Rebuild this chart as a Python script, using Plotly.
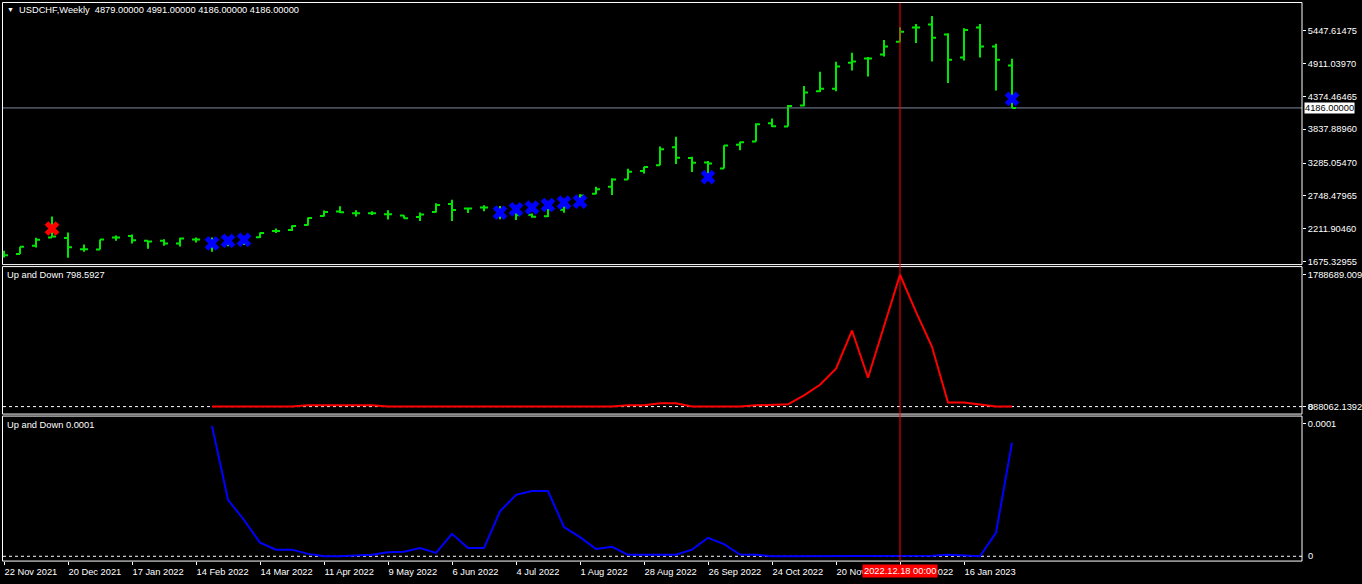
import plotly.graph_objects as go

# weekly USDCHF bars (index 0 = 22 Nov 2021)
bar_idx = list(range(64))
opens = [1778, 1795, 1930, 2067, 2060, 1876, 1871, 2067, 2093, 2012, 2012, 1969, 2034, 2020, 1960, 1990,
         2072, 2175, 2191, 2272, 2419, 2491, 2463, 2463, 2447, 2426, 2403, 2484, 2615, 2540, 2556, 2463,
         2480, 2440, 2414, 2520, 2680, 2784, 2898, 3017, 3153, 3250, 3544, 3365, 3294, 3197, 3583, 3637,
         3935, 3881, 4224, 4457, 4501, 4924, 4995, 5060, 5267, 5500, 5549, 5386, 5011, 5500, 5190, 4879]
highs = [1849, 1914, 2061, 2409, 2149, 1953, 2034, 2100, 2116, 2018, 2039, 2061, 2067, 2067, 2039, 2039,
         2148, 2214, 2263, 2393, 2507, 2577, 2512, 2496, 2512, 2431, 2475, 2626, 2686, 2556, 2594, 2582,
         2560, 2460, 2540, 2580, 2773, 2898, 3034, 3192, 3224, 3555, 3713, 3387, 3316, 3576, 3632, 3935,
         4012, 4235, 4545, 4778, 4941, 5087, 5017, 5299, 5506, 5560, 5691, 5409, 5490, 5560, 5234, 4991]
lows = [1741, 1795, 1904, 2067, 1735, 1832, 1871, 2012, 1969, 1881, 1930, 1920, 1986, 1832, 1925, 1942,
        2060, 2142, 2175, 2263, 2409, 2468, 2409, 2435, 2360, 2377, 2338, 2475, 2338, 2468, 2496, 2365,
        2354, 2390, 2403, 2470, 2664, 2773, 2761, 3017, 3115, 3250, 3267, 3136, 3099, 3197, 3495, 3637,
        3876, 3881, 4212, 4447, 4457, 4799, 4701, 5027, 5262, 5246, 4946, 4594, 4962, 5011, 4473, 4186]
closes = [1778, 1914, 2028, 2083, 1909, 1876, 2034, 2067, 2023, 2002, 1969, 2051, 2034, 2000, 1990, 2010,
          2142, 2175, 2256, 2387, 2484, 2479, 2463, 2463, 2447, 2382, 2442, 2598, 2517, 2540, 2556, 2512,
          2430, 2405, 2528, 2560, 2755, 2854, 3017, 3143, 3218, 3511, 3371, 3290, 3278, 3572, 3625, 3919,
          3886, 4219, 4440, 4501, 4864, 4946, 4995, 5190, 5430, 5500, 5332, 4973, 5462, 5190, 4973, 4186]

# arrow signals
red_x_idx = [3]
red_x_val = [2214]
blue_x_idx = [13, 14, 15, 31, 32, 33, 34, 35, 36, 44, 63]
blue_x_val = [1969, 2012, 2028, 2475, 2528, 2556, 2598, 2638, 2654, 3055, 4333]

# "Up and Down" indicator windows (start at bar 13)
ind_idx = list(range(13, 64))
up_down_red = [3000, 3000, 3000, 3000, 3000, 3000, 17000, 17000, 17000, 17000, 17000,
               3000, 3000, 3000, 3000, 3000, 3000, 3000, 3000, 3000, 3000, 3000, 3000, 3000, 3000, 3000,
               17000, 17000, 45000, 45000, 3000, 3000, 3000, 3000, 17000, 27000, 31000, 153000, 297000,
               514000, 1032000, 392000, 1091000, 1788689, 1284000, 811000, 54000, 54000, 27000, 3000, 798.5927]
up_down_blue = [9.80e-5, 4.25e-5, 2.73e-5, 1.03e-5, 5.0e-6, 5.0e-6, 1.8e-6, 1e-7, 0.0, 6e-7, 1.1e-6,
                3.0e-6, 3.5e-6, 6.2e-6, 2.5e-6, 1.69e-5, 6.2e-6, 6.2e-6, 3.38e-5, 4.62e-5, 4.91e-5, 4.91e-5,
                2.19e-5, 1.44e-5, 5.5e-6, 7.1e-6, 1.1e-6, 1.1e-6, 1.1e-6, 1.1e-6, 5.0e-6, 1.39e-5, 9.1e-6,
                1.3e-6, 1.1e-6, 0.0, 0.0, 0.0, 0.0, 0.0, 0.0, 0.0, 0.0, 0.0, 0.0, 4e-7, 1.1e-6, 4e-7, 0.0,
                1.76e-5, 8.55e-5]

# axis labels
date_tick_idx = [0, 4, 8, 12, 16, 20, 24, 28, 32, 36, 40, 44, 48, 52, 56, 60]
date_labels = ['22 Nov 2021', '20 Dec 2021', '17 Jan 2022', '14 Feb 2022', '14 Mar 2022', '11 Apr 2022',
               '9 May 2022', '6 Jun 2022', '4 Jul 2022', '1 Aug 2022', '28 Aug 2022', '26 Sep 2022',
               '24 Oct 2022', '20 Nov 2022', '18 Dec 2022', '16 Jan 2023']
price_ticks = [5447.61475, 4911.03970, 4374.46465, 3837.88960, 3285.05470, 2748.47965, 2211.90460, 1675.32955]
last_price = 4186.0
cursor_idx = 56
cursor_label = '2022.12.18 00:00'

W, H = 1362, 584
GREEN = '#00E600'
FONT = 'Liberation Sans'


def px(x):
    return x / W


def py(y):
    return 1 - y / H


fig = go.Figure()

fig.add_trace(go.Ohlc(x=bar_idx, open=opens, high=highs, low=lows, close=closes,
                      increasing=dict(line=dict(color=GREEN, width=2)),
                      decreasing=dict(line=dict(color=GREEN, width=2)),
                      tickwidth=0.25, xaxis='x', yaxis='y', showlegend=False, hoverinfo='skip'))
fig.add_trace(go.Scatter(x=red_x_idx, y=red_x_val, mode='markers', xaxis='x', yaxis='y',
                         marker=dict(symbol='x', size=13, color='#FF0000', line=dict(width=0)),
                         showlegend=False, hoverinfo='skip'))
fig.add_trace(go.Scatter(x=blue_x_idx, y=blue_x_val, mode='markers', xaxis='x', yaxis='y',
                         marker=dict(symbol='x', size=13, color='#0000FF', line=dict(width=0)),
                         showlegend=False, hoverinfo='skip'))
fig.add_trace(go.Scatter(x=ind_idx, y=up_down_red, mode='lines', xaxis='x', yaxis='y2',
                         line=dict(color='#FF0000', width=2), showlegend=False, hoverinfo='skip'))
fig.add_trace(go.Scatter(x=ind_idx, y=up_down_blue, mode='lines', xaxis='x', yaxis='y3',
                         line=dict(color='#0000FF', width=2), showlegend=False, hoverinfo='skip'))

tick_font = dict(family=FONT, size=9.3, color='white')

fig.update_layout(
    width=W, height=H,
    paper_bgcolor='black', plot_bgcolor='black',
    margin=dict(l=0, r=0, t=0, b=0),
    showlegend=False,
    xaxis=dict(domain=[px(3), px(1302)], range=[-0.0625, 81.125], anchor='y3',
               rangeslider=dict(visible=False), showgrid=False, zeroline=False, showline=False,
               tickmode='array', tickvals=date_tick_idx, ticktext=date_labels,
               ticks='outside', ticklen=3, tickcolor='white', ticklabelposition='outside right',
               ticklabelstandoff=2, tickfont=tick_font),
    yaxis=dict(domain=[py(265.5), py(2.5)], range=[1623.6, 5910.5], anchor='x', side='right',
               showgrid=False, zeroline=False, tickmode='array', tickvals=price_ticks,
               ticktext=['%.5f' % v for v in price_ticks], ticks='outside', ticklen=3,
               tickcolor='white', tickfont=tick_font),
    yaxis2=dict(domain=[py(415.5), py(267.5)], range=[-101400, 1899560], anchor='x', side='right',
                showgrid=False, zeroline=False, tickmode='array', tickvals=[1788689.009, 0],
                ticktext=['1788689.009', '888062.1392'], ticks='outside', ticklen=3,
                tickcolor='white', tickfont=tick_font),
    yaxis3=dict(domain=[py(563), py(417.5)], range=[-0.0000036, 0.00010545], anchor='x', side='right',
                showgrid=False, zeroline=False, tickmode='array', tickvals=[0.0001],
                ticktext=['0.0001'], ticks='outside', ticklen=3, tickcolor='white', tickfont=tick_font),
)

shapes = []
# panel frames
for top, bottom in [(2.5, 265.5), (267.5, 415.5), (417.5, 563)]:
    shapes.append(dict(type='rect', xref='paper', yref='paper', x0=px(2.5), x1=px(1302),
                       y0=py(bottom), y1=py(top), line=dict(color='white', width=1), layer='above'))
# zero levels of the indicator windows
shapes.append(dict(type='line', xref='paper', yref='y2', x0=px(3), x1=px(1302), y0=0, y1=0,
                   line=dict(color='white', width=1, dash='3px,3px'), layer='below'))
shapes.append(dict(type='line', xref='paper', yref='y3', x0=px(3), x1=px(1302), y0=0, y1=0,
                   line=dict(color='white', width=1, dash='3px,3px'), layer='below'))
# bid line
shapes.append(dict(type='line', xref='paper', yref='y', x0=px(3), x1=px(1302), y0=last_price, y1=last_price,
                   line=dict(color='#7F8A9C', width=1), layer='below'))
# vertical cursor line
shapes.append(dict(type='line', xref='x', yref='paper', x0=cursor_idx, x1=cursor_idx, y0=py(563), y1=py(3),
                   line=dict(color='#FF0000', width=1), layer='above'))
fig.update_layout(shapes=shapes)

ann_font = dict(family=FONT, size=9.3, color='white')
annotations = [
    dict(xref='paper', yref='paper', x=px(5), y=py(10), xanchor='left', yanchor='middle',
         text='\u25bc', showarrow=False, font=dict(family=FONT, size=7, color='white')),
    dict(xref='paper', yref='paper', x=px(17), y=py(10), xanchor='left', yanchor='middle',
         text='USDCHF,Weekly  4879.00000 4991.00000 4186.00000 4186.00000', showarrow=False, font=ann_font),
    dict(xref='paper', yref='paper', x=px(5), y=py(276), xanchor='left', yanchor='middle',
         text='Up and Down 798.5927', showarrow=False, font=ann_font),
    dict(xref='paper', yref='paper', x=px(5), y=py(426), xanchor='left', yanchor='middle',
         text='Up and Down 0.0001', showarrow=False, font=ann_font),
    dict(xref='paper', yref='y', x=px(1304), y=last_price, xanchor='left', yanchor='middle',
         text='4186.00000', showarrow=False, bgcolor='white', borderpad=0,
         font=dict(family=FONT, size=9.3, color='black')),
    dict(xref='paper', yref='y2', x=px(1306), y=0, xanchor='left', yanchor='middle',
         text='0', showarrow=False, font=ann_font),
    dict(xref='paper', yref='paper', x=px(1306), y=py(558), xanchor='left', yanchor='middle',
         text='0', showarrow=False, font=ann_font),
    dict(xref='x', yref='paper', x=cursor_idx, y=py(573), xanchor='center', yanchor='middle',
         text=cursor_label, showarrow=False, bgcolor='#FF0000', borderpad=1,
         font=dict(family=FONT, size=9.3, color='white')),
]
fig.update_layout(annotations=annotations)

# the page puts an 8px body margin round the figure; remove it so the chart fills the window
fig.write_html('out.html', config={'displayModeBar': False},
               post_script="document.body.style.margin='0';")
